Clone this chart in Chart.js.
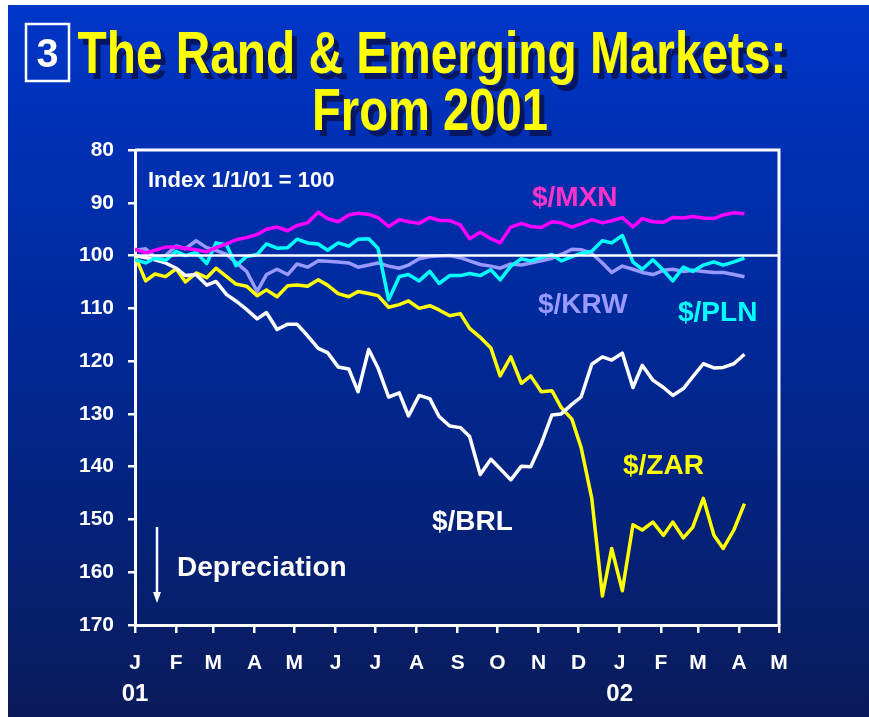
<!DOCTYPE html>
<html lang="en">
<head>
<meta charset="utf-8">
<title>The Rand & Emerging Markets: From 2001</title>
<script src="https://cdn.jsdelivr.net/npm/chart.js@4.4.1/dist/chart.umd.min.js"></script>
<style>
  html, body { margin: 0; padding: 0; background: #fff; }
  #wrap { width: 869px; height: 717px; }
</style>
</head>
<body>
<div id="wrap"><canvas id="chart" width="869" height="717"></canvas></div>
<script>
// days since 1 Jan 2001 of each reading (about every 7.6 days)
const days = [0,8,15,23,31,38,46,54,61,69,76,84,92,99,107,115,122,130,138,145,
  153,161,168,176,183,191,199,206,214,222,229,237,245,252,260,268,275,283,291,298,
  306,314,321,329,336,344,352,359,367,375,382,390,398,405,413,420,428,436,443,451,459];

// month starts for the x axis
const monthStarts = [0,31,59,90,120,151,181,212,243,273,304,334,365,396,424,455,485];
const monthLabels = ['J','F','M','A','M','J','J','A','S','O','N','D','J','F','M','A','M'];
const yearLabels = {0: '01', 12: '02'};

// index 1/1/01 = 100, $ per currency (higher = weaker currency)
const mxn = [98.8,99.5,99.0,98.4,98.4,98.6,98.9,99.3,98.5,97.8,97.0,96.6,96.0,95.0,94.6,95.3,94.3,93.8,91.8,93.0,
  93.6,92.3,92.0,92.2,92.8,94.5,93.2,93.6,93.9,92.8,93.3,93.4,94.2,96.8,95.6,96.8,97.6,94.6,93.9,94.5,
  94.7,93.6,93.8,94.6,94.0,93.2,93.8,93.4,92.8,94.6,93.0,93.6,93.7,92.8,92.9,92.6,92.9,93.0,92.3,91.9,92.1];

const krw = [99.0,98.7,100.3,100.0,98.2,98.7,97.2,98.5,99.0,99.8,101.3,103.0,106.8,103.6,102.6,103.6,101.6,102.2,101.0,101.1,
  101.2,101.4,102.2,101.8,101.4,102.0,102.4,101.8,100.6,100.2,100.1,100.0,100.4,101.0,101.7,102.0,102.4,101.6,101.8,101.4,
  101.0,100.5,99.8,98.8,98.9,99.6,101.4,103.2,102.0,102.6,103.2,103.6,102.8,102.6,103.0,102.8,103.0,103.2,103.2,103.6,104.0];

const pln = [100.8,101.4,100.5,100.9,99.2,100.0,99.4,101.5,97.6,98.0,101.9,100.2,99.8,97.8,98.6,98.5,96.9,97.6,97.8,99.0,
  97.6,98.2,96.9,96.8,98.6,108.4,104.0,103.6,104.8,103.0,105.3,103.8,103.8,103.4,103.8,102.7,104.6,102.0,100.6,101.0,
  100.4,99.8,101.0,100.2,99.6,99.2,97.2,97.6,96.2,101.2,102.6,100.8,102.8,104.8,102.2,103.0,101.8,101.2,101.8,101.2,100.5];

const zar = [100.0,104.8,103.5,104.0,102.5,105.0,103.3,104.2,102.4,104.0,105.4,105.8,107.6,106.5,107.8,105.7,105.6,105.8,104.6,105.6,
  107.2,107.8,106.8,107.2,107.6,109.8,109.3,108.6,110.0,109.5,110.3,111.4,111.0,113.8,115.5,117.5,122.8,119.2,124.2,122.8,
  125.8,125.6,128.8,131.0,136.4,146.0,164.5,155.5,163.5,151.0,152.0,150.5,153.0,150.5,153.5,151.5,146.0,153.0,155.5,152.0,147.0];

const brl = [100.0,100.4,100.8,101.4,102.4,103.8,103.6,105.6,104.9,107.4,108.6,110.2,112.0,110.8,114.0,113.0,113.0,115.2,117.6,118.4,
  121.1,121.5,125.8,117.8,121.3,126.8,126.0,130.4,126.5,127.1,130.5,132.3,132.6,134.3,141.5,138.6,140.4,142.5,139.9,140.0,
  135.6,130.2,130.0,128.2,126.8,120.6,119.2,119.8,118.5,125.0,120.8,123.6,125.0,126.5,125.2,123.0,120.5,121.3,121.2,120.5,118.7];

const FONT = '"Liberation Sans", Arial, sans-serif';

function series(vals) {
  return days.map((d, i) => ({x: d, y: vals[i]}));
}

const backdrop = {
  id: 'backdrop',
  beforeDraw(chart) {
    const c = chart.ctx;
    c.save();
    c.fillStyle = '#ffffff';
    c.fillRect(0, 0, chart.width, chart.height);
    const g = c.createLinearGradient(0, 5, 0, chart.height);
    g.addColorStop(0, '#0036c8');
    g.addColorStop(0.5, '#002894');
    g.addColorStop(1, '#0a1b5a');
    c.fillStyle = g;
    c.fillRect(8, 5, chart.width - 8, chart.height - 5);
    c.restore();
  },
  afterDatasetsDraw(chart) {
    const c = chart.ctx, a = chart.chartArea;
    const y100 = chart.scales.y.getPixelForValue(100);
    c.save();
    c.strokeStyle = '#ffffff';
    c.lineWidth = 2.5;
    c.beginPath();
    c.moveTo(a.left, y100);
    c.lineTo(a.right, y100);
    c.stroke();
    // top and right frame
    c.lineWidth = 3;
    c.beginPath();
    c.moveTo(a.left, a.top);
    c.lineTo(a.right, a.top);
    c.lineTo(a.right, a.bottom);
    c.stroke();
    c.restore();
  },
  afterDraw(chart) {
    const c = chart.ctx;
    c.save();
    // title
    c.textAlign = 'center';
    c.textBaseline = 'alphabetic';
    c.font = 'bold 60px ' + FONT;
    const lines = [['The Rand & Emerging Markets:', 432, 73, 709], ['From 2001', 430, 130, 236]];
    lines.forEach(([t, x, y, w]) => {
      c.fillStyle = '#061660';
      c.fillText(t, x + 5, y + 6, w);
      c.fillStyle = '#ffff00';
      c.fillText(t, x, y, w);
    });
    // numbered box
    c.strokeStyle = '#ffffff';
    c.lineWidth = 2.5;
    c.strokeRect(26, 24, 43, 57);
    c.fillStyle = '#ffffff';
    c.font = 'bold 40px ' + FONT;
    c.fillText('3', 47.5, 67, 22);

    // year labels under the J ticks
    c.font = 'bold 24px ' + FONT;
    Object.keys(yearLabels).forEach(i => {
      c.fillText(yearLabels[i], chart.scales.x.getPixelForValue(monthStarts[i]), 701, 30);
    });

    // labels
    c.textAlign = 'left';
    c.textBaseline = 'middle';
    c.font = 'bold 22px ' + FONT;
    c.fillStyle = '#ffffff';
    c.fillText('Index 1/1/01 = 100', 148, 181, 202);
    c.font = 'bold 28px ' + FONT;
    const tags = [
      ['$/MXN', '#ff33cc', 532, 198],
      ['$/KRW', '#9999ff', 538, 305],
      ['$/PLN', '#00ffff', 678, 313],
      ['$/ZAR', '#ffff00', 623, 466],
      ['$/BRL', '#ffffff', 432, 522]
    ];
    tags.forEach(([t, col, x, y]) => {
      c.fillStyle = col;
      c.fillText(t, x, y);
    });
    c.fillStyle = '#ffffff';
    c.fillText('Depreciation', 177, 568, 173);
    // arrow
    c.strokeStyle = '#ffffff';
    c.lineWidth = 2.5;
    c.beginPath();
    c.moveTo(157, 527);
    c.lineTo(157, 596);
    c.stroke();
    c.beginPath();
    c.moveTo(153, 592);
    c.lineTo(161, 592);
    c.lineTo(157, 603);
    c.closePath();
    c.fill();
    c.restore();
  }
};

function line(label, vals, color) {
  return {
    label: label,
    data: series(vals),
    borderColor: color,
    borderWidth: 3.5,
    pointRadius: 0,
    tension: 0,
    borderJoinStyle: 'round'
  };
}

new Chart(document.getElementById('chart'), {
  type: 'line',
  data: {
    datasets: [
      line('$/MXN', mxn, '#ff00ff'),
      line('$/PLN', pln, '#00ffff'),
      line('$/KRW', krw, '#9999ff'),
      line('$/BRL', brl, '#ffffff'),
      line('$/ZAR', zar, '#ffff00')
    ]
  },
  options: {
    responsive: false,
    animation: false,
    layout: { padding: { top: 150, right: 90, left: 0, bottom: 0 } },
    plugins: { legend: { display: false }, tooltip: { enabled: false } },
    scales: {
      x: {
        type: 'linear',
        min: 0,
        max: 485,
        afterBuildTicks: axis => { axis.ticks = monthStarts.map(v => ({value: v})); },
        afterFit: axis => { axis.height = 92; },
        ticks: {
          color: '#ffffff',
          font: { family: FONT, size: 21, weight: 'bold' },
          padding: 18,
          maxRotation: 0,
          autoSkip: false,
          callback: (v, i) => monthLabels[i]
        },
        grid: { drawOnChartArea: false, drawTicks: true, tickLength: 8, color: '#ffffff', lineWidth: 2.5 },
        border: { display: true, color: '#ffffff', width: 3 }
      },
      y: {
        reverse: true,
        min: 80,
        max: 170,
        afterFit: axis => { axis.width = 135; },
        ticks: {
          stepSize: 10,
          color: '#ffffff',
          font: { family: FONT, size: 21, weight: 'bold' },
          padding: 14
        },
        grid: { drawOnChartArea: false, drawTicks: true, tickLength: 7, color: '#ffffff', lineWidth: 2.5 },
        border: { display: true, color: '#ffffff', width: 3 }
      }
    }
  },
  plugins: [backdrop]
});
</script>
</body>
</html>
